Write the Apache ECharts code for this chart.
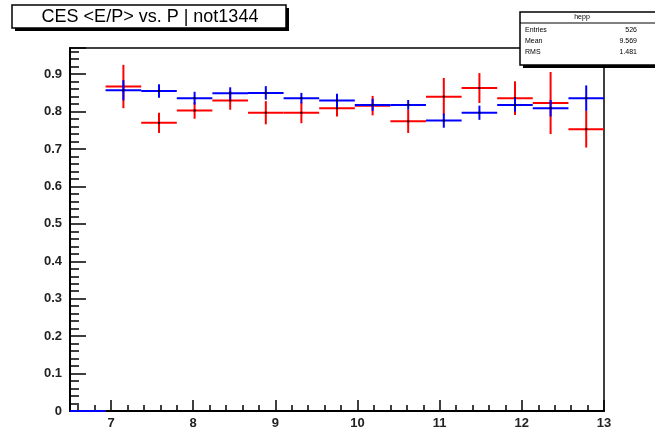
<!DOCTYPE html>
<html>
<head>
<meta charset="utf-8">
<script src="https://cdn.jsdelivr.net/npm/echarts@6/dist/echarts.min.js"></script>
<style>html,body{margin:0;padding:0;background:#fff;}#c{width:655px;height:431px;}</style>
</head>
<body>
<div id="c"></div>
<script>
// Histogram bin edges (P)
const binEdges = [6.5, 6.933, 7.367, 7.8, 8.233, 8.667, 9.1, 9.533, 9.967, 10.4, 10.833, 11.267, 11.7, 12.133, 12.567, 13.0];
// Red series <E/P> and errors
const redValues = [0, 0.867, 0.770, 0.803, 0.830, 0.797, 0.797, 0.809, 0.816, 0.774, 0.840, 0.863, 0.836, 0.823, 0.753];
const redErrors = [0, 0.058, 0.027, 0.022, 0.025, 0.031, 0.028, 0.022, 0.026, 0.031, 0.050, 0.040, 0.045, 0.083, 0.049];
// Blue series <E/P> and errors
const blueValues = [0, 0.857, 0.855, 0.836, 0.849, 0.850, 0.836, 0.830, 0.818, 0.818, 0.776, 0.797, 0.818, 0.809, 0.836];
const blueErrors = [0, 0.027, 0.018, 0.017, 0.016, 0.018, 0.014, 0.018, 0.016, 0.013, 0.019, 0.019, 0.018, 0.022, 0.034];
const titleText = 'CES <E/P> vs. P | not1344';
const statsTitle = 'hepp';
const statsRows = [['Entries', '526'], ['Mean', '9.569'], ['RMS', '1.481']];

function buildData(vals, errs) {
  return vals.map((v, i) => [binEdges[i], binEdges[i + 1], v, errs[i]]);
}

function makeRender(color) {
  return function (params, api) {
    const lo = api.value(0), hi = api.value(1), v = api.value(2), e = api.value(3);
    const mid = (lo + hi) / 2;
    const pL = api.coord([lo, v]), pR = api.coord([hi, v]);
    const children = [{
      type: 'line', shape: {x1: pL[0], y1: pL[1], x2: pR[0], y2: pR[1]},
      style: {stroke: color, lineWidth: 2}
    }];
    if (e > 0) {
      const pT = api.coord([mid, v + e]), pB = api.coord([mid, v - e]);
      children.push({
        type: 'line', shape: {x1: pT[0], y1: pT[1], x2: pB[0], y2: pB[1]},
        style: {stroke: color, lineWidth: 2}
      });
      const pc = api.coord([mid, v]);
      children.push({type: 'rect', shape: {x: pc[0] - 1, y: pc[1] - 1, width: 2, height: 2}, style: {fill: '#000'}});
    }
    return {type: 'group', children: children};
  };
}

const chart = echarts.init(document.getElementById('c'), null, {renderer: 'canvas'});
const lblFont = 'Liberation Sans Narrow, Liberation Sans, Arial, sans-serif';
const statsGraphics = [];
const sx = 520, sy = 12, sw = 140, sh = 53;
statsGraphics.push({type: 'rect', shape: {x: sx + 3, y: sy + 3, width: sw, height: sh}, style: {fill: '#000'}, z: 100});
statsGraphics.push({type: 'rect', shape: {x: sx, y: sy, width: sw, height: sh}, style: {fill: '#fff', stroke: '#000', lineWidth: 1.5}, z: 101});
statsGraphics.push({type: 'line', shape: {x1: sx, y1: 23, x2: sx + sw, y2: 23}, style: {stroke: '#000', lineWidth: 1}, z: 102});
statsGraphics.push({type: 'text', x: 582, y: 17.5, style: {text: statsTitle, font: '7px Liberation Sans, Arial', fill: '#000', align: 'center', verticalAlign: 'middle'}, z: 102});
statsRows.forEach((r, i) => {
  const yy = 30 + i * 11;
  statsGraphics.push({type: 'text', x: 525, y: yy, style: {text: r[0], font: '7px Liberation Sans, Arial', fill: '#000', align: 'left', verticalAlign: 'middle'}, z: 102});
  statsGraphics.push({type: 'text', x: 637, y: yy, style: {text: r[1], font: '7px Liberation Sans, Arial', fill: '#000', align: 'right', verticalAlign: 'middle'}, z: 102});
});

chart.setOption({
  animation: false,
  backgroundColor: '#fff',
  grid: {left: 70, right: 51, top: 48, bottom: 20, show: true, borderColor: '#000', borderWidth: 1.5, backgroundColor: 'transparent'},
  xAxis: {
    type: 'value', min: 6.5, max: 13, splitNumber: 6,
    axisLine: {show: true, lineStyle: {color: '#000', width: 2}},
    axisTick: {show: true, inside: true, length: 11, lineStyle: {color: '#000', width: 1.5}},
    minorTick: {show: true, splitNumber: 5, length: 6, lineStyle: {color: '#000', width: 1.5}},
    splitLine: {show: false},
    axisLabel: {showMinLabel: false, color: '#222', fontFamily: lblFont, fontWeight: 'bold', fontSize: 13, margin: 6}
  },
  yAxis: {
    type: 'value', min: 0, max: 0.97, interval: 0.1,
    axisLine: {show: true, lineStyle: {color: '#000', width: 2}},
    axisTick: {show: true, inside: true, length: 16, lineStyle: {color: '#000', width: 1.5}},
    minorTick: {show: true, splitNumber: 5, length: 9, lineStyle: {color: '#000', width: 1.5}},
    splitLine: {show: false},
    axisLabel: {showMaxLabel: false, color: '#222', fontFamily: lblFont, fontWeight: 'bold', fontSize: 13, margin: 8,
      formatter: v => (v === 0 ? '0' : v.toFixed(1))}
  },
  series: [
    {type: 'custom', name: 'red', renderItem: makeRender('#ff0000'), data: buildData(redValues, redErrors),
      encode: {x: [0, 1], y: 2}, z: 3},
    {type: 'custom', name: 'blue', renderItem: makeRender('#0000ff'), data: buildData(blueValues, blueErrors),
      encode: {x: [0, 1], y: 2}, z: 4}
  ],
  graphic: [
    {type: 'rect', shape: {x: 15, y: 8, width: 274, height: 23}, style: {fill: '#000'}, z: 100},
    {type: 'rect', shape: {x: 12, y: 5, width: 274, height: 23}, style: {fill: '#fff', stroke: '#000', lineWidth: 1.5}, z: 101},
    {type: 'text', x: 150, y: 17, style: {text: titleText, font: '18px Liberation Sans, Arial, sans-serif', fill: '#000', align: 'center', verticalAlign: 'middle'}, z: 102}
  ].concat(statsGraphics)
});
</script>
</body>
</html>
